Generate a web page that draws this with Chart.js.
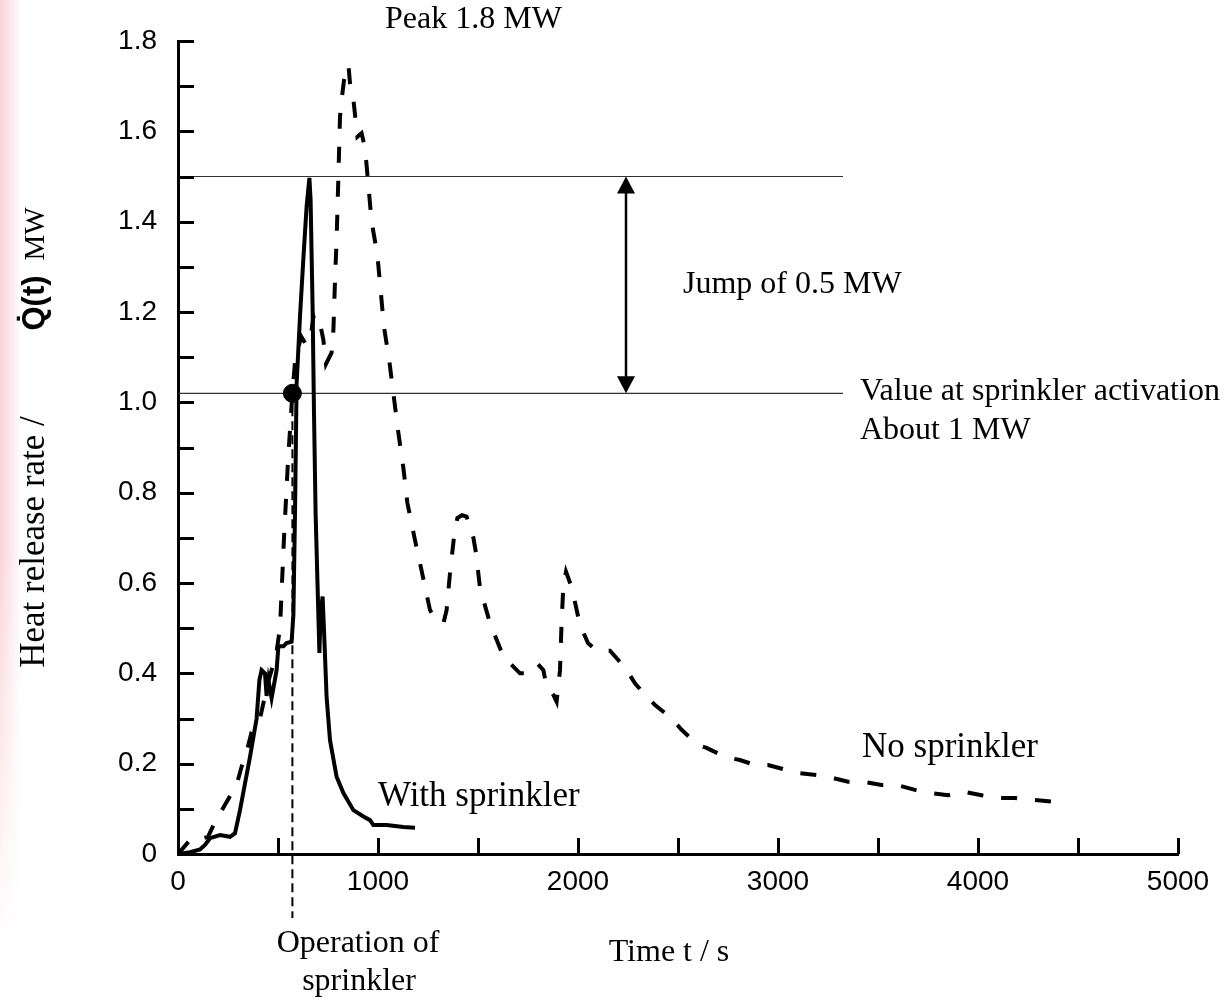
<!DOCTYPE html>
<html>
<head>
<meta charset="utf-8">
<script src="https://cdn.jsdelivr.net/npm/chart.js@4.4.1/dist/chart.umd.min.js"></script>
<style>
  body { margin: 0; background: #fff; }
  #edge { position: absolute; left: 0; top: 0; width: 22px; height: 1001px;
          background: linear-gradient(to right, rgba(240,160,170,0.45), rgba(255,255,255,0));
          -webkit-mask-image: linear-gradient(to bottom, #000 55%, transparent 95%);
          mask-image: linear-gradient(to bottom, #000 55%, transparent 95%); }
  #hrr { position: absolute; left: 0; top: 0; }
</style>
</head>
<body>
<div id="edge"></div>
<canvas id="hrr" width="1230" height="1001"></canvas>
<script>
// Heat release rate, with and without sprinkler
const sprinklerTime = [0, 60, 110, 135, 160, 210, 260, 285, 310, 360, 393, 407, 418, 435, 443, 452, 468, 493, 502, 527, 543, 568,
  577, 585, 593, 610, 627, 643, 657, 663, 673, 680, 688, 697, 707, 713, 723, 730, 743, 760, 793, 827, 877, 927, 960, 977, 1043, 1127, 1185];
const sprinklerHrr = [0, 0.004, 0.01, 0.02, 0.035, 0.042, 0.038, 0.046, 0.097, 0.215, 0.30, 0.385, 0.407, 0.40, 0.35, 0.385, 0.345, 0.407, 0.46, 0.46, 0.467, 0.47,
  0.53, 0.755, 1.04, 1.19, 1.32, 1.433, 1.497, 1.448, 1.21, 0.976, 0.755, 0.607, 0.445, 0.533, 0.57, 0.496, 0.348, 0.252, 0.171, 0.135, 0.097, 0.083, 0.075, 0.064, 0.064, 0.06, 0.058];

const freeTime = [0, 68, 110, 150, 185, 243, 293, 318, 343, 368, 410, 450, 490, 510, 530, 550, 572, 585, 600, 617, 642, 665, 677, 690, 710, 727, 740, 768, 777,
  785, 793, 802, 810, 818, 830, 852, 860, 877, 897, 918, 935, 948, 968, 997, 1013, 1030, 1057, 1080, 1102, 1127, 1147, 1185, 1223, 1260, 1290,
  1327, 1343, 1360, 1380, 1397, 1420, 1443, 1477, 1490, 1510, 1560, 1627, 1710, 1752, 1800, 1827, 1843, 1877, 1893, 1910, 1918, 1927, 1940, 1968,
  2010, 2050, 2093, 2160, 2200, 2243, 2285, 2343, 2385, 2468, 2518, 2600, 2643, 2735, 2810, 2885, 2950, 3043, 3110, 3193, 3260, 3350, 3425,
  3518, 3593, 3685, 3760, 3850, 3925, 4018, 4093, 4185, 4268, 4368, 4443];
const freeHrr = [0, 0.035, 0.033, 0.038, 0.071, 0.115, 0.153, 0.193, 0.226, 0.27, 0.30, 0.38, 0.44, 0.50, 0.70, 0.87, 1.02, 1.09, 1.12, 1.145, 1.127, 1.15, 1.19, 1.17, 1.175, 1.138, 1.085, 1.11, 1.16,
  1.27, 1.36, 1.50, 1.632, 1.67, 1.713, 1.747, 1.707, 1.67, 1.588, 1.596, 1.563, 1.50, 1.40, 1.326, 1.249, 1.167, 1.09, 1.009, 0.932, 0.854, 0.777, 0.695, 0.617, 0.54, 0.518,
  0.511, 0.54, 0.622, 0.702, 0.744, 0.75, 0.747, 0.70, 0.666, 0.589, 0.511, 0.437, 0.40, 0.40, 0.42, 0.407, 0.37, 0.352, 0.337, 0.407, 0.514, 0.595, 0.625, 0.591,
  0.507, 0.467, 0.45, 0.45, 0.43, 0.407, 0.378, 0.348, 0.33, 0.30, 0.275, 0.241, 0.235, 0.215, 0.208, 0.197, 0.197, 0.186, 0.179, 0.175, 0.17, 0.16, 0.16,
  0.153, 0.153, 0.142, 0.135, 0.13, 0.138, 0.13, 0.124, 0.124, 0.12, 0.116, 0.111];

const activationTime = 572;
const activationValue = 1.02;
const sprinklerPeak = 1.5;
const refLineEnd = 3325;
const arrowTime = 2240;

const xTicks = [0, 500, 1000, 1500, 2000, 2500, 3000, 3500, 4000, 4500, 5000];
const yTicks = [0, 0.1, 0.2, 0.3, 0.4, 0.5, 0.6, 0.7, 0.8, 0.9, 1.0, 1.1, 1.2, 1.3, 1.4, 1.5, 1.6, 1.7, 1.8];

const SERIF = '"Liberation Serif", "Times New Roman", serif';
const SANS = '"Liberation Sans", Arial, sans-serif';

const toXY = (ts, vs) => ts.map((t, i) => ({x: t, y: vs[i]}));

const overlay = {
  id: 'overlay',
  beforeDatasetsDraw(chart) {
    const {ctx, scales: {x, y}, chartArea} = chart;
    ctx.save();
    ctx.strokeStyle = '#000';
    ctx.lineWidth = 2;
    ctx.setLineDash([9, 5]);
    const px = x.getPixelForValue(activationTime);
    ctx.beginPath();
    ctx.moveTo(px, y.getPixelForValue(activationValue));
    ctx.lineTo(px, chartArea.bottom + 64);
    ctx.stroke();
    ctx.restore();
  },
  afterDraw(chart) {
    const {ctx, scales: {x, y}} = chart;
    ctx.save();
    // inward tick marks
    ctx.strokeStyle = '#000';
    ctx.lineWidth = 3;
    ctx.beginPath();
    y.ticks.forEach(t => {
      if (t.value === 0) return;
      const py = Math.round(y.getPixelForValue(t.value)) + 0.5;
      ctx.moveTo(x.left, py); ctx.lineTo(x.left + 16, py);
    });
    x.ticks.forEach(t => {
      if (t.value === 0) return;
      const px = Math.round(x.getPixelForValue(t.value)) + 0.5;
      ctx.moveTo(px, y.bottom); ctx.lineTo(px, y.bottom - 16);
    });
    ctx.stroke();

    // double arrow between activation value and sprinkler peak
    const ax = x.getPixelForValue(arrowTime);
    const top = y.getPixelForValue(sprinklerPeak);
    const bot = y.getPixelForValue(activationValue);
    ctx.lineWidth = 2.5;
    ctx.beginPath();
    ctx.moveTo(ax, top + 10); ctx.lineTo(ax, bot - 10);
    ctx.stroke();
    ctx.fillStyle = '#000';
    ctx.beginPath();
    ctx.moveTo(ax, top); ctx.lineTo(ax - 9, top + 17); ctx.lineTo(ax + 9, top + 17); ctx.closePath();
    ctx.moveTo(ax, bot); ctx.lineTo(ax - 9, bot - 17); ctx.lineTo(ax + 9, bot - 17); ctx.closePath();
    ctx.fill();

    // annotations
    ctx.textBaseline = 'middle';
    ctx.textAlign = 'left';
    ctx.font = '32px ' + SERIF;
    ctx.fillText('Peak 1.8 MW', 385, 20);
    ctx.fillText('Jump of 0.5 MW', 683, 285);
    ctx.fillText('Value at sprinkler activation', 860, 392);
    ctx.fillText('About 1 MW', 860, 431);
    ctx.font = '35px ' + SERIF;
    ctx.fillText('No sprinkler', 862, 748);
    ctx.fillText('With sprinkler', 378, 797);
    ctx.textAlign = 'center';
    ctx.font = '32px ' + SERIF;
    ctx.fillText('Operation of', 358, 944);
    ctx.fillText('sprinkler', 359, 982);
    ctx.fillText('Time t / s', 669, 953);

    // y axis title (rotated)
    ctx.textBaseline = 'alphabetic';
    const rot = (txt, font, cy) => {
      ctx.save();
      ctx.translate(44, cy);
      ctx.rotate(-Math.PI / 2);
      ctx.font = font;
      ctx.fillText(txt, 0, 0);
      ctx.restore();
    };
    rot('Heat release rate /', '35px ' + SERIF, 542);
    rot('Q\u0307(t)', 'bold 31px ' + SANS, 303);
    rot('MW', '29px ' + SERIF, 234);
    ctx.restore();
  }
};

new Chart(document.getElementById('hrr'), {
  type: 'line',
  data: {
    datasets: [
      { data: [{x: activationTime, y: activationValue}], showLine: false, pointRadius: 9,
        pointBackgroundColor: '#000', pointBorderColor: '#000' },
      { data: toXY(sprinklerTime, sprinklerHrr), borderColor: '#000', borderWidth: 4, pointRadius: 0, tension: 0 },
      { data: toXY(freeTime, freeHrr), borderColor: '#000', borderWidth: 4, borderDash: [16, 18], pointRadius: 0, tension: 0 },
      { data: [{x: 0, y: sprinklerPeak}, {x: refLineEnd, y: sprinklerPeak}], borderColor: '#333', borderWidth: 1.2, pointRadius: 0 },
      { data: [{x: 0, y: activationValue}, {x: refLineEnd, y: activationValue}], borderColor: '#333', borderWidth: 1.2, pointRadius: 0 }
    ]
  },
  options: {
    responsive: false,
    animation: false,
    layout: { padding: { top: 41, right: 52, left: 0, bottom: 0 } },
    plugins: { legend: { display: false }, tooltip: { enabled: false } },
    scales: {
      x: {
        type: 'linear', min: 0, max: 5000,
        afterFit: s => { s.height = 147; },
        afterBuildTicks: s => { s.ticks = xTicks.map(v => ({value: v})); },
        border: { display: true, color: '#000', width: 3 },
        grid: { drawOnChartArea: false, drawTicks: false },
        ticks: { padding: 11, color: '#000', font: { family: SANS, size: 28 },
                 callback: v => (v % 1000 === 0 ? String(v) : '') }
      },
      y: {
        type: 'linear', min: 0, max: 1.8,
        afterFit: s => { s.width = 178; },
        afterBuildTicks: s => { s.ticks = yTicks.map(v => ({value: v})); },
        border: { display: true, color: '#000', width: 3 },
        grid: { drawOnChartArea: false, drawTicks: false },
        ticks: { padding: 21, color: '#000', font: { family: SANS, size: 28 },
                 callback: v => { const k = Math.round(v * 10); return k === 0 ? '0' : (k % 2 === 0 ? v.toFixed(1) : ''); } }
      }
    }
  },
  plugins: [overlay]
});
</script>
</body>
</html>
